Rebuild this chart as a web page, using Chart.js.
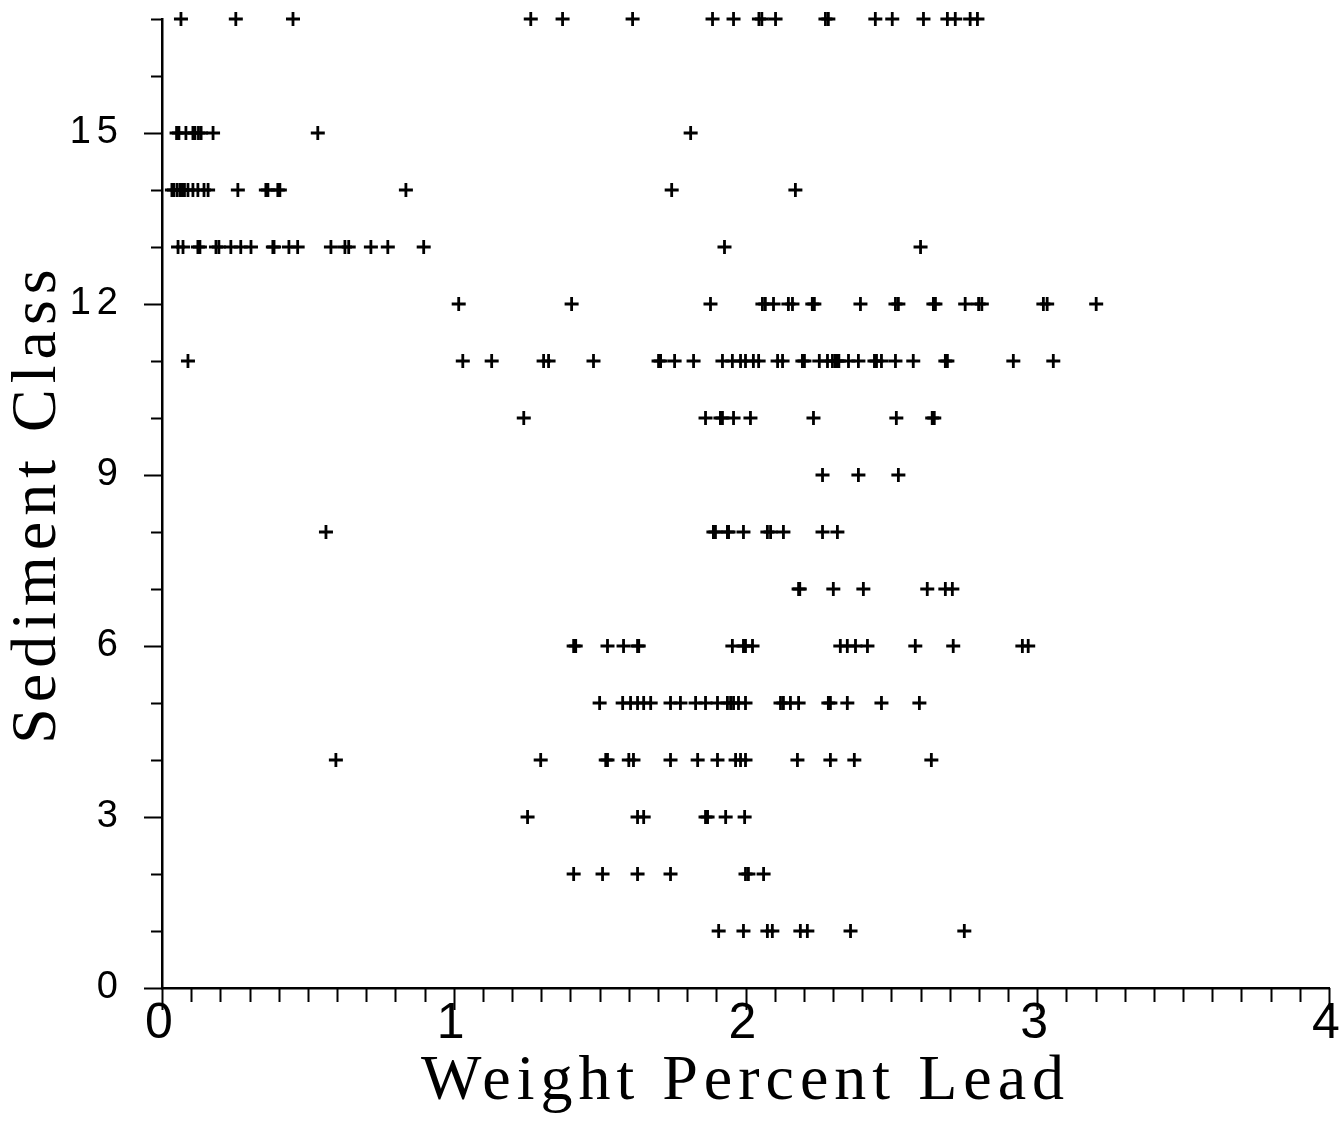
<!DOCTYPE html>
<html>
<head>
<meta charset="utf-8">
<title>Sediment Class vs Weight Percent Lead</title>
<script src="https://cdn.jsdelivr.net/npm/chart.js@4.4.1/dist/chart.umd.min.js"></script>
<style>
  html, body { margin: 0; padding: 0; background: #fff; }
  #wrap { width: 1343px; height: 1121px; position: relative; }
</style>
</head>
<body>
<div id="wrap"><canvas id="scatter"></canvas></div>
<script>
// lead readings (weight %) for each sediment class
const lead17 = [0.065, 0.253, 0.449, 1.264, 1.373, 1.613, 1.887, 1.959, 2.046, 2.056, 2.103, 2.274, 2.284, 2.445, 2.503, 2.61, 2.692, 2.719, 2.77, 2.795];
const lead15 = [0.05, 0.058, 0.082, 0.106, 0.113, 0.125, 0.134, 0.175, 0.534, 1.812];
const lead14 = [0.034, 0.041, 0.052, 0.062, 0.07, 0.077, 0.089, 0.106, 0.123, 0.144, 0.158, 0.26, 0.356, 0.363, 0.397, 0.404, 0.836, 1.747, 2.171];
const lead13 = [0.055, 0.072, 0.123, 0.13, 0.185, 0.195, 0.236, 0.27, 0.305, 0.38, 0.384, 0.435, 0.465, 0.579, 0.627, 0.64, 0.716, 0.774, 0.897, 1.928, 2.6];
const lead12 = [1.017, 1.404, 1.88, 2.058, 2.068, 2.096, 2.147, 2.161, 2.229, 2.236, 2.394, 2.514, 2.524, 2.644, 2.651, 2.753, 2.799, 2.81, 3.021, 3.034, 3.202];
const lead11 = [0.089, 1.031, 1.13, 1.308, 1.325, 1.479, 1.702, 1.709, 1.757, 1.822, 1.921, 1.955, 1.983, 2.0, 2.027, 2.045, 2.11, 2.127, 2.195, 2.202, 2.253, 2.281, 2.298, 2.308, 2.315, 2.32, 2.353, 2.387, 2.442, 2.449, 2.466, 2.514, 2.575, 2.685, 2.692, 2.918, 3.055];
const lead10 = [1.24, 1.863, 1.914, 1.921, 1.959, 2.017, 2.233, 2.517, 2.64, 2.647];
const lead9 = [2.264, 2.387, 2.524];
const lead8 = [0.562, 1.89, 1.897, 1.938, 1.942, 1.993, 2.075, 2.086, 2.13, 2.264, 2.315];
const lead7 = [2.182, 2.186, 2.301, 2.404, 2.623, 2.685, 2.709];
const lead6 = [1.411, 1.418, 1.527, 1.582, 1.63, 1.634, 1.955, 1.993, 2.0, 2.024, 2.325, 2.349, 2.377, 2.418, 2.582, 2.712, 2.949, 2.969];
const lead5 = [1.5, 1.579, 1.606, 1.63, 1.651, 1.675, 1.743, 1.777, 1.829, 1.863, 1.904, 1.938, 1.949, 1.959, 1.976, 2.0, 2.12, 2.13, 2.154, 2.182, 2.284, 2.291, 2.349, 2.466, 2.596];
const lead4 = [0.596, 1.298, 1.521, 1.527, 1.6, 1.616, 1.743, 1.836, 1.904, 1.966, 1.983, 2.0, 2.178, 2.291, 2.373, 2.637];
const lead3 = [1.253, 1.63, 1.651, 1.863, 1.87, 1.932, 1.997];
const lead2 = [1.411, 1.51, 1.63, 1.743, 2.0, 2.01, 2.062];
const lead1 = [1.908, 1.993, 2.075, 2.092, 2.188, 2.212, 2.36, 2.75];

const sedimentClasses = [17, 15, 14, 13, 12, 11, 10, 9, 8, 7, 6, 5, 4, 3, 2, 1];
const leadSets = [lead17, lead15, lead14, lead13, lead12, lead11, lead10, lead9, lead8, lead7, lead6, lead5, lead4, lead3, lead2, lead1];

const yLabelValues = [0, 3, 6, 9, 12, 15];
const xLabelValues = [0, 1, 2, 3, 4];

const points = [];
sedimentClasses.forEach((cls, i) => {
    leadSets[i].forEach(v => points.push({ x: v, y: cls }));
});

const isWhole = v => Math.abs(v - Math.round(v)) < 1e-6;

// drop the extra room Chart.js keeps for half-labels at the axis ends
function trimEnds(scale) {
    scale.paddingTop = 0;
    scale.paddingBottom = 0;
    scale.paddingLeft = 0;
    scale.paddingRight = 0;
}

// tick marks drawn outward from the axes: long at labelled values, short elsewhere
const outwardTicks = {
    id: 'outwardTicks',
    beforeDraw(chart) {
        chart.ctx.letterSpacing = '6px';
    },
    afterDraw(chart) {
        const ctx = chart.ctx;
        const xs = chart.scales.x;
        const ys = chart.scales.y;
        const area = chart.chartArea;
        ctx.save();
        ctx.strokeStyle = '#000';
        ctx.lineWidth = 2;
        ctx.beginPath();
        xs.ticks.forEach((t, i) => {
            const px = Math.round(xs.getPixelForTick(i)) + 0.5;
            const len = isWhole(t.value) ? 22 : 14;
            ctx.moveTo(px, area.bottom);
            ctx.lineTo(px, area.bottom + len);
        });
        ys.ticks.forEach((t, i) => {
            const py = Math.round(ys.getPixelForTick(i)) + 0.5;
            const len = yLabelValues.includes(t.value) ? 18 : 11;
            ctx.moveTo(area.left, py);
            ctx.lineTo(area.left - len, py);
        });
        ctx.stroke();
        ctx.restore();
    }
};

new Chart(document.getElementById('scatter'), {
    type: 'scatter',
    data: {
        datasets: [{
            label: 'Lead',
            data: points,
            pointStyle: 'cross',
            pointRadius: 7,
            pointHoverRadius: 7,
            pointBorderWidth: 2.8,
            borderColor: '#000',
            backgroundColor: '#000',
            clip: false
        }]
    },
    options: {
        responsive: true,
        maintainAspectRatio: false,
        animation: false,
        events: [],
        layout: { padding: { top: 19, right: 14, left: 0, bottom: 0 } },
        plugins: {
            legend: { display: false },
            tooltip: { enabled: false }
        },
        scales: {
            x: {
                type: 'linear',
                min: 0,
                max: 4,
                border: { display: true, color: '#000', width: 2.5 },
                grid: { display: true, drawOnChartArea: false, drawTicks: false, color: 'rgba(0,0,0,0)' },
                ticks: {
                    stepSize: 0.1,
                    autoSkip: false,
                    maxRotation: 0,
                    padding: 6,
                    color: '#000',
                    font: { family: 'Liberation Sans', size: 50 },
                    callback: v => (isWhole(v) && xLabelValues.includes(Math.round(v))) ? String(Math.round(v)) : ''
                },
                title: {
                    display: true,
                    text: 'Weight Percent Lead',
                    color: '#000',
                    font: { family: 'Liberation Serif', size: 64 },
                    padding: { top: 0, bottom: 0 }
                },
                afterFit: scale => { trimEnds(scale); scale.height = 133; }
            },
            y: {
                type: 'linear',
                min: 0,
                max: 17,
                border: { display: true, color: '#000', width: 2.5 },
                grid: { display: true, drawOnChartArea: false, drawTicks: false, color: 'rgba(0,0,0,0)' },
                ticks: {
                    stepSize: 1,
                    autoSkip: false,
                    padding: 38,
                    color: '#000',
                    font: { family: 'Liberation Sans', size: 38 },
                    callback: v => yLabelValues.includes(v) ? String(v) : ''
                },
                title: {
                    display: true,
                    text: 'Sediment Class',
                    color: '#000',
                    font: { family: 'Liberation Serif', size: 64 },
                    padding: { top: 0, bottom: 0 }
                },
                afterFit: scale => { trimEnds(scale); scale.width = 162; }
            }
        }
    },
    plugins: [outwardTicks]
});
</script>
</body>
</html>
